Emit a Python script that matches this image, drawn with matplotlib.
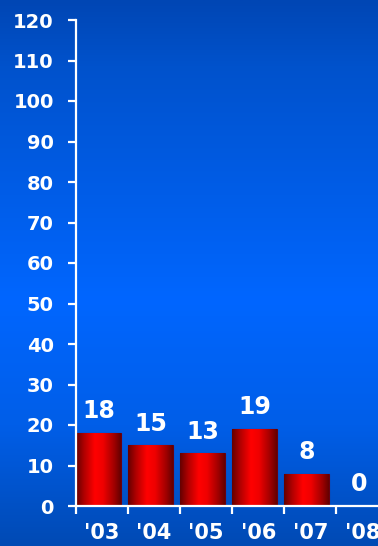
import numpy as np
import matplotlib
matplotlib.use('Agg')
import matplotlib.pyplot as plt
from matplotlib.colors import LinearSegmentedColormap

# 数据
years = ["'03", "'04", "'05", "'06", "'07", "'08"]
counts = [18, 15, 13, 19, 8, 0]
y_ticks = list(range(0, 130, 10))

plt.rcParams['font.family'] = ['DejaVu Sans']
plt.rcParams['font.weight'] = 'bold'

fig = plt.figure(figsize=(3.78, 5.46), dpi=100)

# 背景渐变
bg = fig.add_axes([0, 0, 1, 1], zorder=-10)
bg_cmap = LinearSegmentedColormap.from_list('bg', [(0.0, '#0046b4'), (0.12, '#0052cc'),
                                                   (0.55, '#0066ff'), (0.78, '#005ee8'),
                                                   (1.0, '#004ab4')])
grad = np.linspace(0, 1, 256).reshape(-1, 1)
bg.imshow(grad, cmap=bg_cmap, aspect='auto', extent=[0, 1, 0, 1], origin='upper')
bg.axis('off')

ax = fig.add_axes([76 / 378, 40 / 546, 1 - 76 / 378, 486 / 546])
ax.patch.set_alpha(0)

x = np.arange(len(years))
bw = 0.86
bars = ax.bar(x - 0.5, counts, width=bw, align='edge', color='#e00000',
              edgecolor='#6a0010', linewidth=0.8, zorder=2)

# 柱子横向渐变
bar_cmap = LinearSegmentedColormap.from_list('bar', [(0.0, '#640000'), (0.18, '#b00000'),
                                                     (0.42, '#ff0000'), (0.6, '#f00000'),
                                                     (0.85, '#a00000'), (1.0, '#640000')])
hgrad = np.linspace(0, 1, 256).reshape(1, -1)
for b in bars:
    if b.get_height() <= 0:
        continue
    im = ax.imshow(hgrad, cmap=bar_cmap, aspect='auto', zorder=2.5,
                   extent=[b.get_x(), b.get_x() + b.get_width(), 0, b.get_height()])
    im.set_clip_path(b)

for i, v in enumerate(counts):
    ax.annotate(str(v), (i - 0.5 + bw / 2, v), xytext=(0, 7), textcoords='offset points',
                color='white', fontsize=17, fontweight='bold',
                ha='center', va='bottom', zorder=4)

ax.set_yticks(y_ticks)
ax.set_xticks(x)
ax.set_xticklabels(years)
ax.set_xticks(np.arange(len(years) + 1) - 0.5, minor=True)
ax.set_xlim(-0.5, 5.3)
ax.set_ylim(0, 120)

for s in ['top', 'right']:
    ax.spines[s].set_visible(False)
for s in ['left', 'bottom']:
    ax.spines[s].set_color('white')
    ax.spines[s].set_linewidth(1.6)

ax.tick_params(axis='y', colors='white', labelsize=14, length=6, width=1.6, pad=10)
ax.tick_params(axis='x', which='major', colors='white', labelsize=15, length=0, pad=12)
ax.tick_params(axis='x', which='minor', colors='white', length=6, width=1.6)
for lab in ax.get_yticklabels() + ax.get_xticklabels():
    lab.set_fontweight('bold')

fig.savefig('out.png', dpi=100)
